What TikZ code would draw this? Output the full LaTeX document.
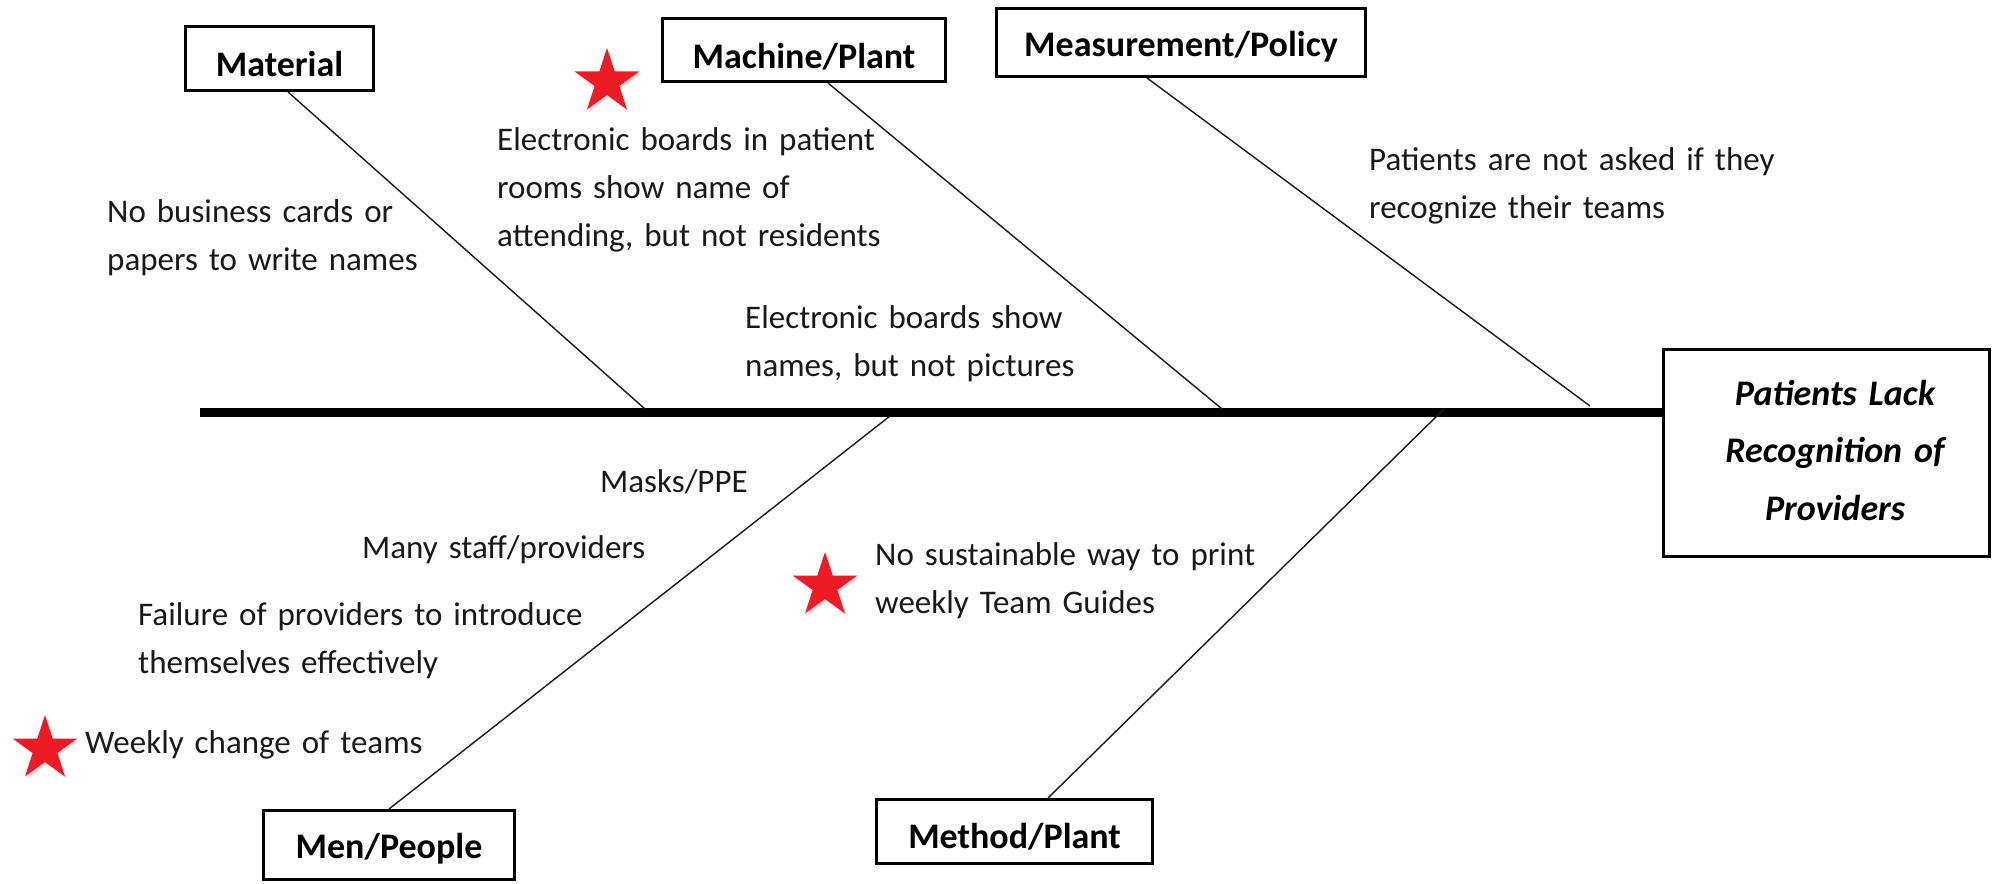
\documentclass[tikz,border=0pt]{standalone}
\usepackage{fontspec}
\setmainfont{Carlito}
\usetikzlibrary{shapes.geometric,shadows}
\definecolor{starred}{RGB}{237,28,36}
\definecolor{ink}{RGB}{25,25,25}
\begin{document}
\begin{tikzpicture}[x=1pt,y=-1pt,
  catbox/.style={draw=black, line width=3pt, fill=white, inner sep=0pt,
    font=\fontsize{36}{43}\selectfont\bfseries, text depth=0pt},
  cause/.style={anchor=base west, inner sep=0pt, text width=600pt, align=left,
    font=\fontsize{33}{48}\selectfont, text=ink},
  bone/.style={draw=ink, line width=1.4pt},
  spine/.style={draw=black, line width=9pt},
  redstar/.style={star, star points=5, star point ratio=2.618, fill=starred,
    draw=none, inner sep=0pt, minimum size=68pt,
    drop shadow={shadow xshift=2pt, shadow yshift=-2pt, opacity=0.25}}
]
\useasboundingbox (0,0) rectangle (1993,883);
\fill[white] (0,0) rectangle (1993,883);

% category boxes
\node[catbox, minimum width=188pt, minimum height=64pt, text height=37pt] (mat) at (279.5,58.5) {Material};
\node[catbox, minimum width=283pt, minimum height=63pt, text height=36pt] (mac) at (804,50) {Machine/Plant};
\node[catbox, minimum width=369pt, minimum height=68pt, text height=28pt] (mea) at (1181,42.5) {Measurement/Policy};
\node[catbox, minimum width=251pt, minimum height=69pt, text height=26pt] (men) at (389,845) {Men/People};
\node[catbox, minimum width=276pt, minimum height=64pt, text height=33pt] (met) at (1014.5,831.5) {Method/Plant};

% effect box
\node[draw=black, line width=3pt, fill=white, minimum width=326pt, minimum height=207pt, inner sep=0pt] (pat) at (1826.5,453) {};
\node[anchor=base, inner sep=0pt, text width=330pt, align=center,
  font=\fontsize{36}{57.5}\selectfont\bfseries\itshape] (pattxt) at (1835,405)
  {Patients Lack\\Recognition of\\Providers};

% spine
\coordinate (tail) at (200,412.5);
\draw[spine] (tail) -- (tail -| pat.west);

% bone ends on the spine
\coordinate (bmat) at (645,409);
\coordinate (bmac) at (1222,409);
\coordinate (bmea) at (1590,406);
\coordinate (bmen) at (890,416);
\coordinate (bmet) at (1444,409);

\draw[bone] ([xshift=8.5pt]mat.south) -- (bmat);
\draw[bone] ([xshift=24pt]mac.south) -- (bmac);
\draw[bone] ([xshift=-34pt]mea.south) -- (bmea);
\draw[bone] (men.north) -- (bmen);
\draw[bone] ([xshift=33.5pt]met.north) -- (bmet);

% causes
\node[cause] (c1) at (107,222) {No business cards or\\papers to write names};
\node[cause] (c2) at (497,150) {Electronic boards in patient\\rooms show name of\\attending, but not residents};
\node[cause] (c3) at (745,328) {Electronic boards show\\names, but not pictures};
\node[cause] (c4) at (1369,170) {Patients are not asked if they\\recognize their teams};
\node[cause] (c5) at (600,492) {Masks/PPE};
\node[cause] (c6) at (362,558) {Many staff/providers};
\node[cause] (c7) at (138,625) {Failure of providers to introduce\\themselves effectively};
\node[cause] (c8) at (85,753) {Weekly change of teams};
\node[cause] (c9) at (875,565) {No sustainable way to print\\weekly Team Guides};

% stars
\node[redstar] (st1) at (607,82) {};
\node[redstar] (st2) at (45,749) {};
\node[redstar] (st3) at (825,586) {};
\end{tikzpicture}
\end{document}
